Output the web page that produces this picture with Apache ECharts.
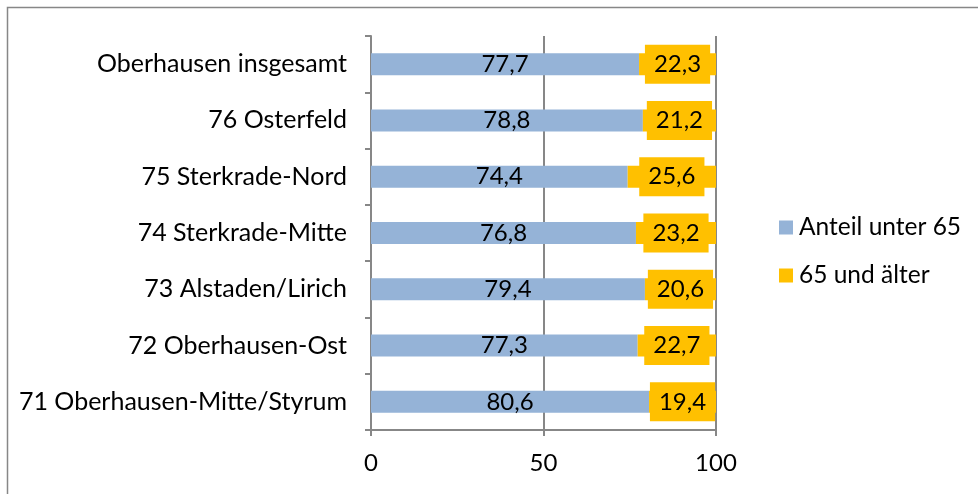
<!DOCTYPE html>
<html>
<head>
<meta charset="utf-8">
<script src="https://cdn.jsdelivr.net/npm/echarts@6/dist/echarts.min.js"></script>
<style>
    html, body { margin: 0; padding: 0; background: #fff; }
    #main { width: 978px; height: 494px; }
</style>
</head>
<body>
<div id="main"></div>
<script>
// Stadtbezirke, von oben nach unten
var bezirke = [
    "Oberhausen insgesamt",
    "76 Osterfeld",
    "75 Sterkrade-Nord",
    "74 Sterkrade-Mitte",
    "73 Alstaden/Lirich",
    "72 Oberhausen-Ost",
    "71 Oberhausen-Mitte/Styrum"
];
var unter65 = [77.7, 78.8, 74.4, 76.8, 79.4, 77.3, 80.6];
var ab65 = [22.3, 21.2, 25.6, 23.2, 20.6, 22.7, 19.4];
var seriesNames = ["Anteil unter 65", "65 und älter"];
var xTicks = [0, 50, 100];

var font = "Lato";
var gray = "#878787";

function fmt(v) {
    return String(v).replace(".", ",");
}

var myChart = echarts.init(document.getElementById("main"));

var option = {
    animation: false,
    graphic: [{
        type: "rect",
        shape: { x: 7.5, y: 7.5, width: 1000, height: 520 },
        style: { fill: "none", stroke: gray, lineWidth: 1.5 },
        silent: true
    }],
    grid: {
        left: 371,
        right: 262,
        top: 36,
        bottom: 64
    },
    legend: {
        orient: "vertical",
        left: 779,
        top: 215,
        padding: 0,
        itemWidth: 14,
        itemHeight: 14,
        itemGap: 23,
        icon: "rect",
        textStyle: { fontFamily: font, fontSize: 24.5, color: "#000", padding: [0, 0, 0, 1] },
        data: seriesNames
    },
    xAxis: {
        type: "value",
        min: 0,
        max: 100,
        interval: 50,
        axisLine: { show: true, lineStyle: { color: gray, width: 2 } },
        axisTick: { show: true, length: 6, lineStyle: { color: gray, width: 2 } },
        splitLine: { show: true, lineStyle: { color: gray, width: 2 } },
        axisLabel: {
            margin: 21,
            fontFamily: font,
            fontSize: 24,
            color: "#000",
            formatter: function (v) { return xTicks.indexOf(v) >= 0 ? String(v) : ""; }
        }
    },
    yAxis: {
        type: "category",
        inverse: true,
        data: bezirke,
        axisLine: { show: true, lineStyle: { color: gray, width: 2 } },
        axisTick: { show: true, length: 6, lineStyle: { color: gray, width: 2 } },
        axisLabel: {
            margin: 24,
            fontFamily: font,
            fontSize: 25,
            color: "#000"
        }
    },
    series: [
        {
            name: seriesNames[0],
            type: "bar",
            stack: "anteil",
            barWidth: 22,
            itemStyle: { color: "#95B3D7" },
            label: {
                show: true,
                position: "inside",
                fontFamily: font,
                fontSize: 24,
                color: "#000",
                formatter: function (p) { return fmt(p.value); }
            },
            data: unter65
        },
        {
            name: seriesNames[1],
            type: "bar",
            stack: "anteil",
            barWidth: 22,
            itemStyle: { color: "#FFC000" },
            label: {
                show: true,
                position: "inside",
                fontFamily: font,
                fontSize: 24,
                color: "#000",
                backgroundColor: "#FFC000",
                padding: [8, 9, 7, 9],
                formatter: function (p) { return fmt(p.value); }
            },
            data: ab65
        }
    ]
};

myChart.setOption(option);
</script>
</body>
</html>
